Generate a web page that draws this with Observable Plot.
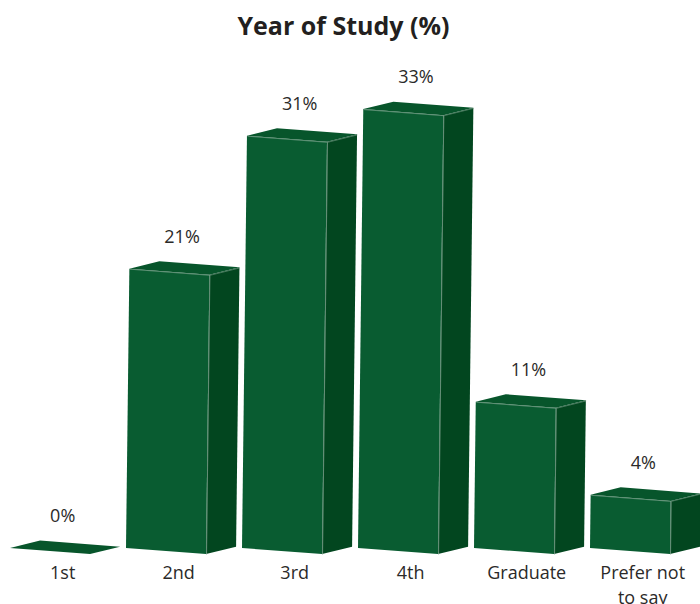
<!DOCTYPE html>
<html>
<head>
<meta charset="utf-8">
<script src="https://cdn.jsdelivr.net/npm/d3@7"></script>
<script src="https://cdn.jsdelivr.net/npm/@observablehq/plot@0.6"></script>
<style>
  html, body { margin: 0; padding: 0; background: #fff; }
  #title { height: 50px; line-height: 50px; text-align: center; font: 700 25px/50px "Open Sans", sans-serif; color: #231f20; padding-right: 13px; box-sizing: border-box; width: 700px; white-space: nowrap; }
  svg { display: block; }
</style>
</head>
<body>
<div id="title">Year of Study (%)</div>
<div id="chart"></div>
<script>
const categories = ["1st", "2nd", "3rd", "4th", "Graduate", "Prefer not\nto say"];
const percents = [0, 21, 31, 33, 11, 4];

// Projection of the 3D boxes, in data units (x: category steps, y: percent points)
const frontWidth = 0.69, depthX = 0.259, depthRise = 0.56, frontDrop = 0.46, lean = 0.00138;

const colors = { front: "#095c31", side: "#02461f", top: "#07552b", edge: "#8fae9c", text: "#2b2a29" };

const bars = categories.map((label, i) => {
  const v = percents[i];
  const lx = i + v * lean;            // top-left x leans to the right with height
  return {
    label, v, i,
    center: lx + 0.45,
    front: [
      {x1: i, y1: 0, x2: lx, y2: v},
      {x1: i + frontWidth, y1: -frontDrop, x2: lx + frontWidth, y2: v - frontDrop}
    ],
    side: [
      {x1: i + frontWidth, y1: -frontDrop, x2: lx + frontWidth, y2: v - frontDrop},
      {x1: i + frontWidth + depthX, y1: -frontDrop + depthRise, x2: lx + frontWidth + depthX, y2: v - frontDrop + depthRise}
    ],
    top: [
      {x1: lx, y1: v, x2: lx + depthX, y2: v + depthRise},
      {x1: lx + frontWidth, y1: v - frontDrop, x2: lx + frontWidth + depthX, y2: v - frontDrop + depthRise}
    ]
  };
});

const face = (key, fill) => bars.filter(b => key === "top" || b.v > 0).map(b =>
  Plot.area(b[key], {x1: "x1", y1: "y1", x2: "x2", y2: "y2", fill})
);

const standing = bars.filter(b => b.v > 0);
const edges = [
  // front-right vertical edge
  Plot.link(standing, {x1: b => b.i + frontWidth, y1: -frontDrop, x2: b => b.front[1].x2, y2: b => b.v - frontDrop,
    stroke: colors.edge, strokeWidth: 0.7}),
  // top front edge
  Plot.link(standing, {x1: b => b.front[0].x2, y1: b => b.v, x2: b => b.front[1].x2, y2: b => b.v - frontDrop,
    stroke: colors.edge, strokeWidth: 0.6}),
  // top right edge
  Plot.link(standing, {x1: b => b.front[1].x2, y1: b => b.v - frontDrop, x2: b => b.side[1].x2, y2: b => b.v - frontDrop + depthRise,
    stroke: colors.edge, strokeWidth: 0.5})
];

const chart = Plot.plot({
  width: 700,
  height: 554,
  marginTop: 0, marginRight: 0, marginBottom: 0, marginLeft: 0,
  x: {axis: null, domain: [-10 / 116, 690 / 116], range: [0, 700]},
  y: {axis: null, domain: [-56 / 13.3, 498 / 13.3], range: [554, 0]},
  marks: [
    ...face("side", colors.side),
    ...face("front", colors.front),
    ...face("top", colors.top),
    ...edges,
    Plot.text(bars, {
      x: "center", y: "v", dy: -32,
      text: b => b.v + "%",
      fill: colors.text, fontSize: 18, fontFamily: "Open Sans, sans-serif"
    }),
    Plot.text(bars, {
      x: b => b.i + 0.45, y: 0, dy: 13,
      text: "label", lineAnchor: "top", lineHeight: 1.39,
      fill: colors.text, fontSize: 18, fontFamily: "Open Sans, sans-serif"
    })
  ]
});
chart.style.overflow = "visible";
chart.style.background = "transparent";
document.getElementById("chart").append(chart);
</script>
</body>
</html>
